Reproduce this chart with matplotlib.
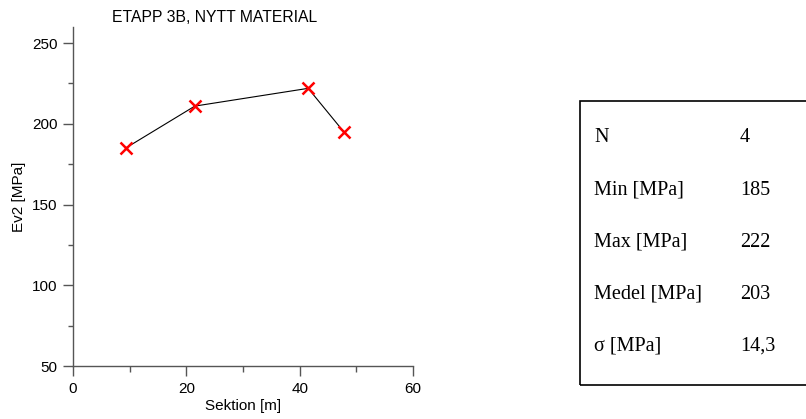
import matplotlib
matplotlib.use("Agg")
import matplotlib.pyplot as plt
from matplotlib.patches import Rectangle
from matplotlib.ticker import MultipleLocator

# mätpunkter
sektion = [9.3, 21.5, 41.5, 47.8]
ev2 = [185, 211, 222, 195]

# statistik
stat_namn = ["N", "Min [MPa]", "Max [MPa]", "Medel [MPa]", "σ [MPa]"]
stat_varde = ["4", "185", "222", "203", "14,3"]

W, H = 806, 419
fig = plt.figure(figsize=(W / 100, H / 100), dpi=100)
plt.rcParams['font.family'] = ['Liberation Sans', 'DejaVu Sans']

ax = fig.add_axes([73 / W, 1 - 366 / H, 340 / W, 339 / H])
ax.plot(sektion, ev2, color='black', linewidth=0.8, zorder=2)
ax.plot(sektion, ev2, linestyle='none', marker='x', color='red',
        markersize=8.5, markeredgewidth=1.8, zorder=3)

ax.set_xlim(0, 60)
ax.set_ylim(50, 260)
ax.xaxis.set_major_locator(MultipleLocator(20))
ax.xaxis.set_minor_locator(MultipleLocator(10))
ax.yaxis.set_major_locator(MultipleLocator(50))
ax.yaxis.set_minor_locator(MultipleLocator(25))
for s in ['top', 'right']:
    ax.spines[s].set_visible(False)
for s in ['left', 'bottom']:
    ax.spines[s].set_color('#555555')
    ax.spines[s].set_linewidth(1.0)
ax.tick_params(which='major', length=7.5, width=1, color='#555555',
               labelsize=11, pad=4)
ax.tick_params(axis='y', which='major', length=7.2)
ax.tick_params(which='minor', length=4.5, width=1, color='#555555')
ax.tick_params(axis='y', which='minor', length=3.6)
ax.patch.set_alpha(0)

ax.set_xlabel('Sektion [m]', fontsize=11, labelpad=2.5)
ax.set_ylabel('Ev2 [MPa]', fontsize=11, labelpad=4)
fig.text(215 / W, 1 - 18 / H, 'ETAPP 3B, NYTT MATERIAL', ha='center',
         va='center', fontsize=11.3)

# statistikruta
fig.add_artist(Rectangle((580 / W, 1 - 385 / H), 240 / W, 284 / H,
                         transform=fig.transFigure, fill=False,
                         edgecolor='black', linewidth=1.2, clip_on=False))
rader_y = [138, 190, 242, 294, 346]
for namn, varde, y in zip(stat_namn, stat_varde, rader_y):
    fig.text(594 / W, 1 - y / H, namn, va='center', ha='left',
             family=['Liberation Serif', 'DejaVu Serif'], fontsize=14.5)
    fig.text(740 / W, 1 - y / H, varde, va='center', ha='left',
             family=['Liberation Serif', 'DejaVu Serif'], fontsize=14.5)

fig.savefig('out.png', dpi=100)
